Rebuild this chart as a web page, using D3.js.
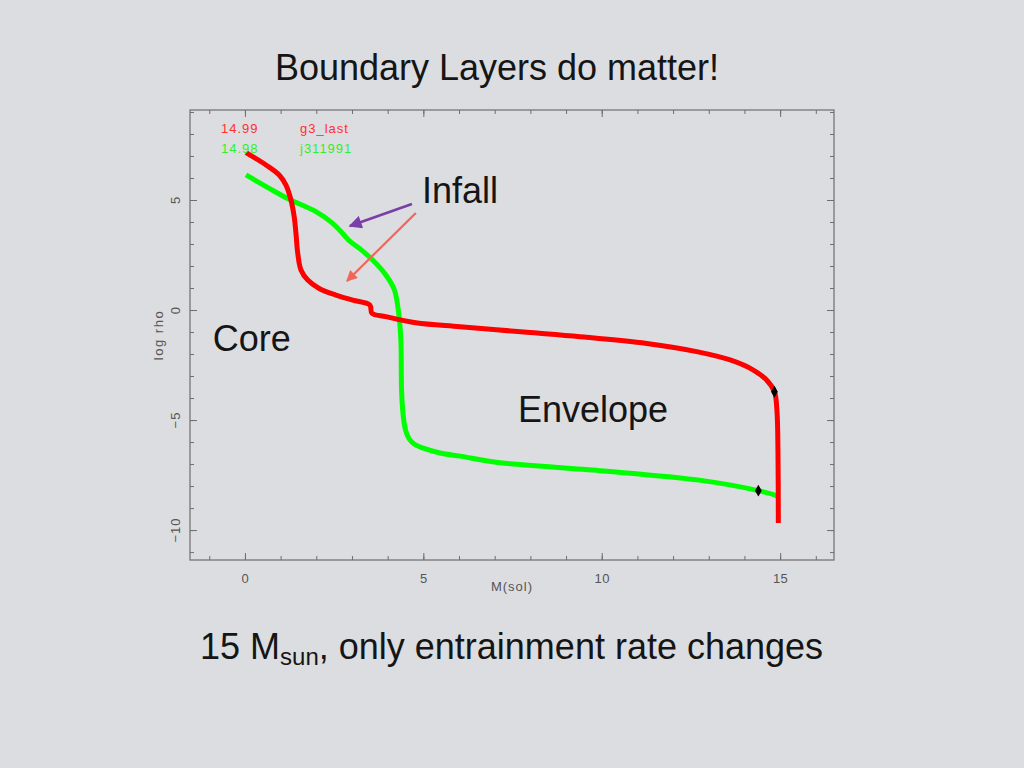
<!DOCTYPE html>
<html>
<head>
<meta charset="utf-8">
<script src="https://cdn.jsdelivr.net/npm/d3@7"></script>
<style>
  html, body { margin: 0; padding: 0; background: #dcdde0; }
  svg { display: block; }
</style>
</head>
<body>
<svg id="chart" width="1024" height="768"></svg>
<script>
// ---- Data ----
const redName = "g3_last", redLabel = "14.99";
const greenName = "j311991", greenLabel = "14.98";

const redM = [0.03, 0.59, 0.96, 1.15, 1.29, 1.38, 1.43, 1.48, 1.57, 1.76, 2.08, 2.55, 3.02, 3.50, 3.56, 3.95, 4.79, 6.03, 7.90, 9.39, 11.26, 12.66, 13.60, 14.25, 14.62, 14.84, 14.91, 14.94, 14.95];
const redRho = [7.15, 6.59, 6.14, 5.68, 5.00, 4.24, 3.48, 2.58, 1.82, 1.36, 0.98, 0.68, 0.45, 0.23, -0.15, -0.30, -0.58, -0.76, -1.01, -1.21, -1.52, -1.89, -2.27, -2.73, -3.18, -3.71, -4.55, -6.5, -9.68];

const greenM = [0.03, 0.68, 1.24, 1.99, 2.46, 2.74, 2.93, 3.21, 3.58, 3.95, 4.19, 4.31, 4.37, 4.39, 4.43, 4.50, 4.60, 4.75, 5.00, 5.47, 6.03, 7.15, 9.95, 12.73, 14.39, 14.91, 14.95];
const greenRho = [6.14, 5.53, 5.03, 4.47, 3.94, 3.48, 3.14, 2.80, 2.27, 1.59, 0.91, -0.15, -1.36, -3.64, -4.70, -5.45, -5.85, -6.10, -6.28, -6.50, -6.64, -6.94, -7.30, -7.73, -8.21, -8.45, -8.50];

const markerM = [14.84, 14.39];
const markerRho = [-3.71, -8.21];

const xMajorTicks = [0, 5, 10, 15];
const yMajorTicks = [-10, -5, 0, 5];
const xMinorTicks = d3.range(-1, 17);
const yMinorTicks = d3.range(-11, 10);

// ---- Layout ----
const svg = d3.select("#chart");
const L = 190, R = 834, T = 110, B = 560;
const x = d3.scaleLinear().domain([-1.54, 16.51]).range([L, R]);
const y = d3.scaleLinear().domain([-11.36, 9.09]).range([B, T]);

const axisColor = "#6e6e6e";
const labelColor = "#555";
const smallFont = "'Liberation Sans', Arial, sans-serif";
const bigFont = "'Liberation Sans', Arial, sans-serif";
const bigColor = "#151515";

// Title
svg.append("text").attr("x", 497).attr("y", 80).attr("text-anchor", "middle")
  .attr("font-family", bigFont).attr("font-size", 36).attr("fill", bigColor)
  .text("Boundary Layers do matter!");

// Frame
svg.append("rect").attr("x", L).attr("y", T).attr("width", R - L).attr("height", B - T)
  .attr("fill", "none").attr("stroke", axisColor).attr("stroke-width", 1.2);

// Axes with inward ticks on all four sides
function addAxis(gen, transform) {
  const g = svg.append("g").attr("transform", transform).call(gen);
  g.select(".domain").remove();
  g.selectAll("line").attr("stroke", axisColor).attr("stroke-width", 1);
  return g;
}
// minor
addAxis(d3.axisBottom(x).tickValues(xMinorTicks).tickSize(-4).tickFormat(""), `translate(0,${B})`);
addAxis(d3.axisTop(x).tickValues(xMinorTicks).tickSize(-4).tickFormat(""), `translate(0,${T})`);
addAxis(d3.axisLeft(y).tickValues(yMinorTicks).tickSize(-4).tickFormat(""), `translate(${L},0)`);
addAxis(d3.axisRight(y).tickValues(yMinorTicks).tickSize(-4).tickFormat(""), `translate(${R},0)`);
// major
const xb = addAxis(d3.axisBottom(x).tickValues(xMajorTicks).tickSize(-7).tickPadding(14).tickFormat(d3.format("d")), `translate(0,${B})`);
xb.selectAll("text").attr("font-family", smallFont).attr("font-size", 13).attr("letter-spacing", 0.5).attr("fill", labelColor);
addAxis(d3.axisTop(x).tickValues(xMajorTicks).tickSize(-7).tickFormat(""), `translate(0,${T})`);
addAxis(d3.axisLeft(y).tickValues(yMajorTicks).tickSize(-7).tickFormat(""), `translate(${L},0)`);
addAxis(d3.axisRight(y).tickValues(yMajorTicks).tickSize(-7).tickFormat(""), `translate(${R},0)`);
// rotated y tick labels
svg.append("g").selectAll("text").data(yMajorTicks).join("text")
  .attr("transform", d => `translate(180,${y(d)}) rotate(-90)`)
  .attr("text-anchor", "middle")
  .attr("font-family", smallFont).attr("font-size", 13).attr("letter-spacing", 1).attr("fill", labelColor)
  .text(d => d < 0 ? "\u2212" + Math.abs(d) : d);

// Axis titles
svg.append("text").attr("x", (L + R) / 2).attr("y", 591).attr("text-anchor", "middle")
  .attr("font-family", smallFont).attr("font-size", 13).attr("letter-spacing", 1).attr("fill", labelColor).text("M(sol)");
svg.append("text").attr("transform", `translate(163,${(T + B) / 2}) rotate(-90)`).attr("text-anchor", "middle")
  .attr("font-family", smallFont).attr("font-size", 13).attr("letter-spacing", 1.5).attr("fill", labelColor).text("log rho");

// Curves
const line = d3.line().x(d => x(d[0])).y(d => y(d[1])).curve(d3.curveCatmullRom.alpha(0.5));
const redData = redM.map((m, i) => [m, redRho[i]]);
const greenData = greenM.map((m, i) => [m, greenRho[i]]);

svg.append("path").datum(greenData).attr("d", line)
  .attr("fill", "none").attr("stroke", "#00ff00").attr("stroke-width", 5).attr("stroke-linejoin", "round");
svg.append("path").datum(redData).attr("d", line)
  .attr("fill", "none").attr("stroke", "#ff0000").attr("stroke-width", 5).attr("stroke-linejoin", "round");

// markers (small black diamonds)
svg.append("g").selectAll("path").data(markerM.map((m, i) => [m, markerRho[i]])).join("path")
  .attr("d", d3.symbol().type(d3.symbolDiamond).size(40))
  .attr("transform", d => `translate(${x(d[0])},${y(d[1])})`)
  .attr("fill", "#000");

// Legend
const legend = [
  { label: redLabel, name: redName, color: "#ff3030" },
  { label: greenLabel, name: greenName, color: "#30ee30" }
];
legend.forEach((d, i) => {
  svg.append("text").attr("x", 221).attr("y", 133 + i * 20)
    .attr("font-family", smallFont).attr("font-size", 13).attr("letter-spacing", 1).attr("fill", d.color).text(d.label);
  svg.append("text").attr("x", 300).attr("y", 133 + i * 20)
    .attr("font-family", smallFont).attr("font-size", 13).attr("letter-spacing", 1).attr("fill", d.color).text(d.name);
});

// Annotations
const defs = svg.append("defs");
function arrowMarker(id, color) {
  defs.append("marker").attr("id", id).attr("viewBox", "0 0 10 10").attr("refX", 9).attr("refY", 5)
    .attr("markerWidth", 5.5).attr("markerHeight", 5).attr("orient", "auto").attr("markerUnits", "strokeWidth")
    .append("path").attr("d", "M0,0 L10,5 L0,10 z").attr("fill", color);
}
arrowMarker("arrPurple", "#7a3fa6");
arrowMarker("arrSalmon", "#f0665a");

const arrows = [
  { from: [4.68, 4.82], to: [2.94, 3.82], color: "#7a3fa6", id: "arrPurple", w: 2.6 },
  { from: [4.79, 4.41], to: [2.86, 1.32], color: "#f0665a", id: "arrSalmon", w: 2.2 }
];
arrows.forEach(a => {
  svg.append("line")
    .attr("x1", x(a.from[0])).attr("y1", y(a.from[1]))
    .attr("x2", x(a.to[0])).attr("y2", y(a.to[1]))
    .attr("stroke", a.color).attr("stroke-width", a.w)
    .attr("marker-end", `url(#${a.id})`);
});

const notes = [
  { text: "Infall", m: 4.96, rho: 4.86 },
  { text: "Core", m: -0.9, rho: -1.86 },
  { text: "Envelope", m: 7.65, rho: -5.1 }
];
svg.append("g").selectAll("text").data(notes).join("text")
  .attr("x", d => x(d.m)).attr("y", d => y(d.rho))
  .attr("font-family", bigFont).attr("font-size", 36).attr("fill", bigColor)
  .text(d => d.text);

// Bottom caption
const cap = svg.append("text").attr("x", 200).attr("y", 659)
  .attr("font-family", bigFont).attr("font-size", 36).attr("fill", bigColor);
cap.append("tspan").text("15 M");
cap.append("tspan").attr("font-size", 24).attr("dy", 6).text("sun");
cap.append("tspan").attr("dy", -6).text(", only entrainment rate changes");
</script>
</body>
</html>
